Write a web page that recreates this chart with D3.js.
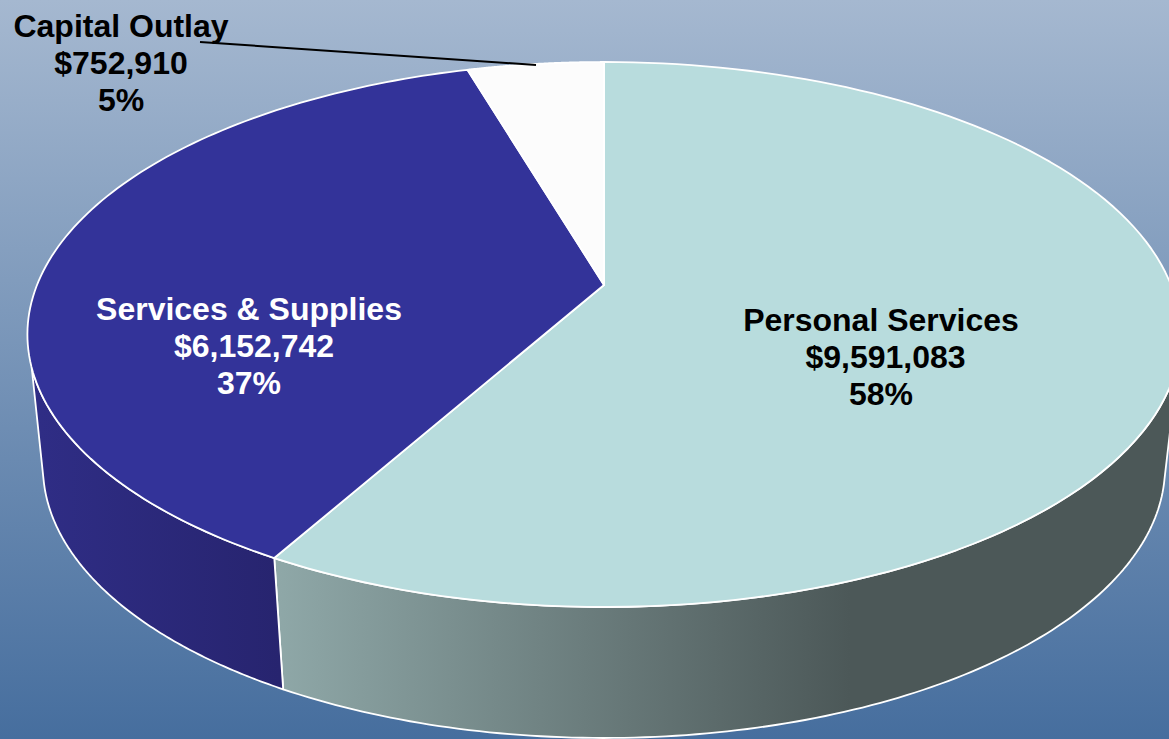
<!DOCTYPE html>
<html>
<head>
<meta charset="utf-8">
<script src="https://cdn.jsdelivr.net/npm/d3@7"></script>
<style>
  html, body { margin: 0; padding: 0; overflow: hidden; }
  svg { display: block; }
  text { font-family: "Liberation Sans", Arial, sans-serif; font-weight: bold; text-anchor: middle; }
</style>
</head>
<body>
<svg id="chart"></svg>
<script>
// Chart values
const categories = ["Personal Services", "Services & Supplies", "Capital Outlay"];
const amounts = [9591083, 6152742, 752910];

// Colours per slice: top face, side gradient start and end
const topColors = ["#b8dcdd", "#333399", "#fcfcfc"];
const sideFrom = ["#8fa8a8", "#2f2d85", null];
const sideTo = ["#4c5858", "#27246f", null];
const labelColors = ["#000", "#fff", "#000"];

const width = 1169;
const height = 739;
const svg = d3.select("#chart").attr("width", width).attr("height", height);
const defs = svg.append("defs");

// Background gradient
const bg = defs.append("linearGradient").attr("id", "bg")
    .attr("x1", "0%").attr("x2", "0%").attr("y1", "0%").attr("y2", "100%");
bg.append("stop").attr("offset", "0%").attr("stop-color", "#a5b8d0");
bg.append("stop").attr("offset", "100%").attr("stop-color", "#466e9e");
svg.append("rect").attr("width", width).attr("height", height).attr("fill", "url(#bg)");

// Side gradients
const light = defs.append("linearGradient").attr("id", "side0")
    .attr("gradientUnits", "userSpaceOnUse")
    .attr("x1", 275).attr("x2", 850).attr("y1", 0).attr("y2", 0);
light.append("stop").attr("offset", "0%").attr("stop-color", sideFrom[0]);
light.append("stop").attr("offset", "100%").attr("stop-color", sideTo[0]);
const dark = defs.append("linearGradient").attr("id", "side1")
    .attr("gradientUnits", "userSpaceOnUse")
    .attr("x1", 40).attr("x2", 280).attr("y1", 0).attr("y2", 0);
dark.append("stop").attr("offset", "0%").attr("stop-color", sideFrom[1]);
dark.append("stop").attr("offset", "100%").attr("stop-color", sideTo[1]);

// Perspective tilt of the disc: near edge is bigger than far edge
const tilt = -0.1817;
const topRim = { x: 604, y: 285, a: 567, b: 263.5 };
const bottomRim = { x: 604, y: 417.8, a: 551.7, b: 262 };

function project(rim, angle) {
    const u = Math.sin(angle);
    const v = -Math.cos(angle);
    const w = 1 + tilt * v;
    return [rim.x + rim.a * u / w, rim.y + rim.b * v / w];
}

function arcPoints(rim, from, to) {
    const n = 120;
    return d3.range(n + 1).map(i => project(rim, from + (to - from) * i / n));
}

const line = d3.line();
const slices = d3.pie().sort(null)(amounts);
const deg = Math.PI / 180;

// Sides of the two slices that face the viewer
const sides = [
    { i: 0, from: 105 * deg, topTo: slices[0].endAngle, botTo: slices[0].endAngle, botFrom: 103 * deg },
    { i: 1, from: slices[1].startAngle, topTo: 252.7 * deg, botTo: 256.8 * deg, botFrom: slices[1].startAngle }
];
sides.forEach(s => {
    const pts = arcPoints(topRim, s.from, s.topTo)
        .concat(arcPoints(bottomRim, s.botTo, s.botFrom));
    svg.append("path")
        .attr("d", line(pts) + "Z")
        .attr("fill", `url(#side${s.i})`)
        .attr("stroke", "#fff")
        .attr("stroke-width", 1.8)
        .attr("stroke-linejoin", "round");
});

// Top faces
slices.forEach((s, i) => {
    const pts = [[topRim.x, topRim.y]].concat(arcPoints(topRim, s.startAngle, s.endAngle));
    svg.append("path")
        .attr("d", line(pts) + "Z")
        .attr("fill", topColors[i])
        .attr("stroke", "#fff")
        .attr("stroke-width", 1.8)
        .attr("stroke-linejoin", "round");
});

// Leader line for the small slice
svg.append("line")
    .attr("x1", 200).attr("y1", 42).attr("x2", 536).attr("y2", 65)
    .attr("stroke", "#000").attr("stroke-width", 2);

// Data labels: name, amount, share
const total = d3.sum(amounts);
const labelPos = [[881, 331], [249, 320], [121, 37]];
const amountShift = [4.5, 5, 0]; // amount line sits a bit right of the other two
const money = d3.format("$,");
const pct = d3.format(".0%");
categories.forEach((name, i) => {
    const t = svg.append("text")
        .attr("y", labelPos[i][1])
        .attr("fill", labelColors[i])
        .attr("font-size", 32);
    [name, money(amounts[i]), pct(amounts[i] / total)].forEach((label, j) => {
        t.append("tspan")
            .attr("x", labelPos[i][0] + (j === 1 ? amountShift[i] : 0))
            .attr("dy", j ? 36.8 : 0)
            .text(label);
    });
});
</script>
</body>
</html>
